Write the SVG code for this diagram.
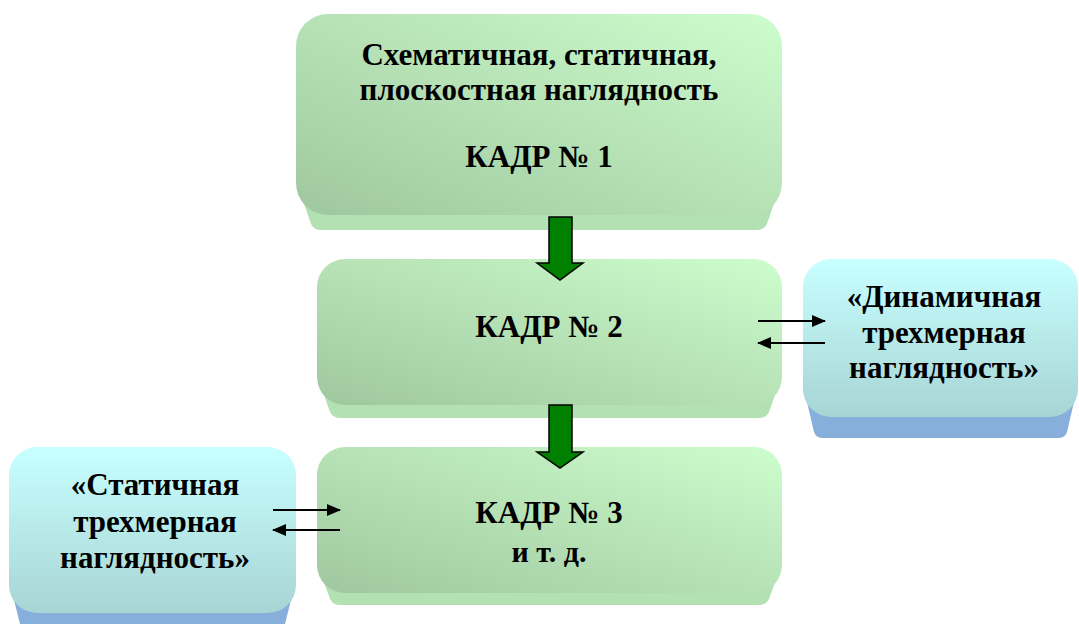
<svg xmlns="http://www.w3.org/2000/svg" width="1079" height="624" viewBox="0 0 1079 624">
<defs>
<linearGradient id="gG" x1="1" y1="0" x2="0" y2="1">
<stop offset="0" stop-color="#cdfdcd"/>
<stop offset="1" stop-color="#9fc79f"/>
</linearGradient>
<linearGradient id="gB" x1="0" y1="0" x2="0" y2="1">
<stop offset="0" stop-color="#c8ffff"/>
<stop offset="1" stop-color="#a8d4d4"/>
</linearGradient>
<marker id="ah" markerWidth="14" markerHeight="12" refX="13" refY="6" orient="auto" markerUnits="userSpaceOnUse">
<path d="M0,0 L14,6 L0,12 Z" fill="#000"/>
</marker>
<style>
.t{font-family:'Liberation Serif','DejaVu Serif',serif;font-weight:bold;font-size:31px;fill:#000;text-anchor:middle}
.s{font-size:30px}
.gb{fill:#b3e1b3}
.bb{fill:#86afdc}
.gf{fill:url(#gG)}
.bf{fill:url(#gB)}
.ga{fill:#008000;stroke:#000;stroke-width:1.5}
.ln{stroke:#000;stroke-width:2;fill:none;marker-end:url(#ah)}
</style>
</defs>
<g id="node1">
<path class="gb" d="M296,180 L311,224 Q314,230 321,230 L757,230 Q764,230 767,224 L782,180 Z"/>
<rect class="gf" x="296" y="14" width="486" height="201" rx="32"/>
<text class="t" x="539" y="65">Схематичная, статичная,</text>
<text class="t" x="539" y="100">плоскостная наглядность</text>
<text class="t" x="539" y="167">КАДР № 1</text>
</g>
<g id="node2">
<path class="gb" d="M317,375 L330,412 Q333,418 340,418 L759,418 Q766,418 769,412 L782,375 Z"/>
<rect class="gf" x="317" y="259" width="465" height="146" rx="28"/>
<text class="t" x="549" y="337">КАДР № 2</text>
</g>
<g id="node3">
<path class="gb" d="M317,563 L330,599 Q333,605 340,605 L759,605 Q766,605 769,599 L782,563 Z"/>
<rect class="gf" x="317" y="447" width="465" height="146" rx="28"/>
<text class="t" x="549" y="523">КАДР № 3</text>
<text class="t s" x="549" y="562">и т. д.</text>
</g>
<g id="node4">
<path class="bb" d="M803,385 L814,432 Q816,438 823,438 L1058,438 Q1065,438 1067,432 L1078,385 Z"/>
<rect class="bf" x="803" y="259" width="275" height="158" rx="28"/>
<text class="t" x="944" y="307">«Динамичная</text>
<text class="t" x="944" y="343">трехмерная</text>
<text class="t" x="944" y="378">наглядность»</text>
</g>
<g id="node5">
<path class="bb" d="M9,580 L20,624 L285,624 L296,580 Z"/>
<rect class="bf" x="9" y="447" width="287" height="166" rx="28"/>
<text class="t" x="155" y="495">«Статичная</text>
<text class="t" x="155" y="532">трехмерная</text>
<text class="t" x="155" y="568">наглядность»</text>
</g>
<g id="connectors">
<path class="ga" d="M549,217 L572,217 L572,263 L583,263 L560,280 L537,263 L549,263 Z"/>
<path class="ga" d="M549,405 L572,405 L572,452 L583,452 L560,468 L537,452 L549,452 Z"/>
<line class="ln" x1="758" y1="321" x2="825" y2="321"/>
<line class="ln" x1="825" y1="343" x2="758" y2="343"/>
<line class="ln" x1="273" y1="510" x2="340" y2="510"/>
<line class="ln" x1="340" y1="530" x2="273" y2="530"/>
</g>
</svg>
